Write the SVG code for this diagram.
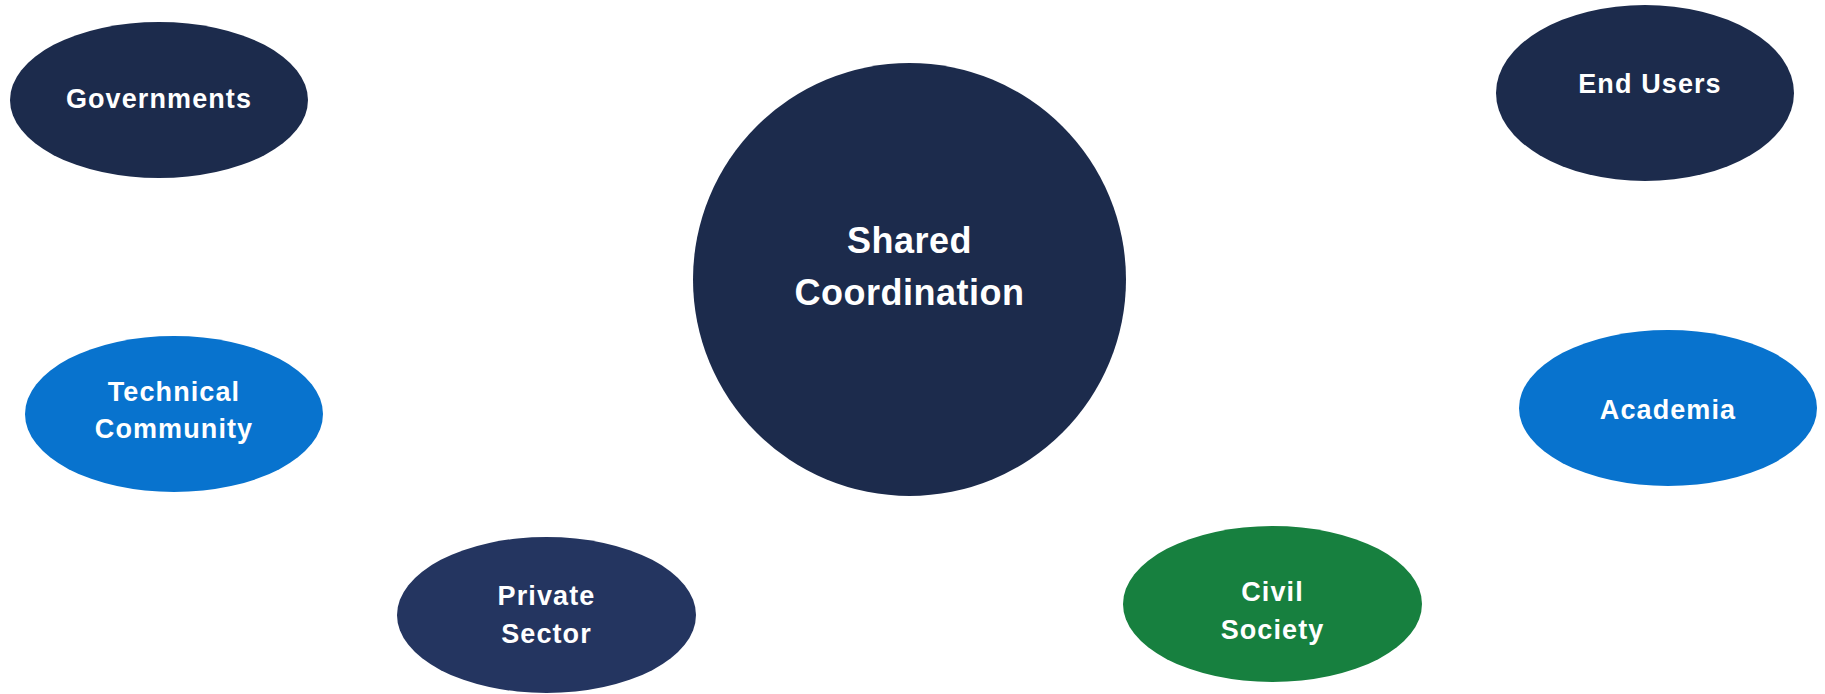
<svg xmlns="http://www.w3.org/2000/svg" width="1825" height="694" viewBox="0 0 1825 694">
<style>
.t{font-family:"Liberation Sans",Arial,sans-serif;font-weight:bold;fill:#ffffff;text-anchor:middle;font-size:27px;letter-spacing:1.1px}
.big{font-size:36px;letter-spacing:0.5px}
.navy{fill:#1c2b4c}
.navy2{fill:#243560}
.blue{fill:#0873ce}
.green{fill:#17803f}
</style>
<rect width="1825" height="694" fill="#ffffff"/>
<g id="connectors"></g>
<g id="shared-coordination">
<circle class="navy" cx="909.5" cy="279.5" r="216.5"/>
<text class="t big" x="909.5" y="253">Shared</text>
<text class="t big" x="909.5" y="305">Coordination</text>
</g>
<g id="governments">
<ellipse class="navy" cx="159" cy="100" rx="149" ry="78"/>
<text class="t" x="159" y="108">Governments</text>
</g>
<g id="end-users">
<ellipse class="navy" cx="1645" cy="93" rx="149" ry="88"/>
<text class="t" x="1650" y="93">End Users</text>
</g>
<g id="technical-community">
<ellipse class="blue" cx="174" cy="414" rx="149" ry="78"/>
<text class="t" x="174" y="401">Technical</text>
<text class="t" x="174" y="438">Community</text>
</g>
<g id="academia">
<ellipse class="blue" cx="1668" cy="408" rx="149" ry="78"/>
<text class="t" x="1668" y="419">Academia</text>
</g>
<g id="private-sector">
<ellipse class="navy2" cx="546.5" cy="615" rx="149.5" ry="78"/>
<text class="t" x="546.5" y="605">Private</text>
<text class="t" x="546.5" y="643">Sector</text>
</g>
<g id="civil-society">
<ellipse class="green" cx="1272.5" cy="604" rx="149.5" ry="78"/>
<text class="t" x="1272.5" y="601">Civil</text>
<text class="t" x="1272.5" y="639">Society</text>
</g>
</svg>
